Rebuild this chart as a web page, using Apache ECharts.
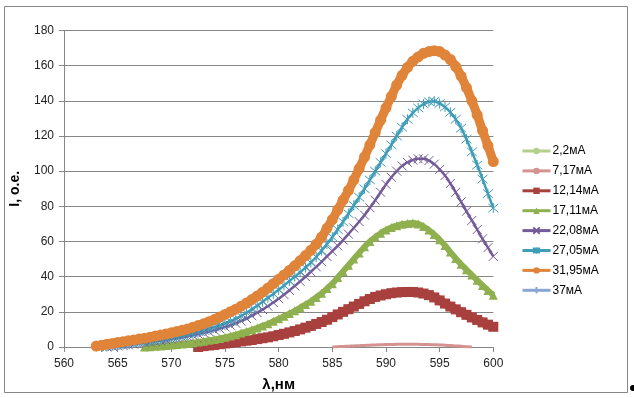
<!DOCTYPE html>
<html><head><meta charset="utf-8">
<script src="https://cdn.jsdelivr.net/npm/echarts/dist/echarts.min.js"></script>
<style>html,body{margin:0;padding:0;background:#fff}#c{width:634px;height:398px}</style>
</head><body><div id="c"></div><script>
// wavelength grid, nm
const lambda = [563,563.5,564,564.5,565,565.5,566,566.5,567,567.5,568,568.5,569,569.5,570,570.5,571,571.5,572,572.5,
  573,573.5,574,574.5,575,575.5,576,576.5,577,577.5,578,578.5,579,579.5,580,580.5,581,581.5,582,582.5,
  583,583.5,584,584.5,585,585.5,586,586.5,587,587.5,588,588.5,589,589.5,590,590.5,591,591.5,592,592.5,
  593,593.5,594,594.5,595,595.5,596,596.5,597,597.5,598,598.5,599,599.5,600];
const seriesNames = ['2,2мА','7,17мА','12,14мА','17,11мА','22,08мА','27,05мА','31,95мА','37мА'];
const xTicks = [560,565,570,575,580,585,590,595,600];
const yTicks = [0,20,40,60,80,100,120,140,160,180];

// start wavelengths of each series
const start_2_2 = null, start_7_17 = 585, start_12_14 = 572.5, start_17_11 = 567.5,
      start_22_08 = 564, start_27_05 = 563.5, start_31_95 = 563, start_37 = null;

const I_2_2 = [];
const I_7_17 = [0,0.15,0.3,0.45,0.6,0.75,0.9,1.05,1.2,1.3,1.4,1.45,1.5,1.55,1.6,1.55,1.5,1.45,1.4,1.3,1.2,1.0,0.8,0.6,0.4,0.2,0];
const I_12_14 = [0,0.5,0.85,1.2,1.6,2.0,2.4,2.8,3.2,3.6,
  4.0,4.5,5.0,5.5,6.1,6.8,7.5,8.3,9.1,10.0,
  11,12,13.1,14.2,15.5,17,18.5,20,21.5,23,
  24.5,26,27.3,28.5,29.3,30,30.6,31,31.2,31.3,
  31.3,31,30.4,29.5,28.2,26.5,24.7,23,21.4,19.8,
  18.3,16.8,15.4,14,12.7,11.5];
const I_17_11 = [0,0.2,0.4,0.6,0.8,1.1,1.4,1.7,2.0,2.4,
  2.8,3.3,3.8,4.3,4.9,5.5,6.2,7.0,7.9,8.8,
  9.8,10.8,12.0,13.2,14.6,16.0,17.5,19.0,20.6,22.3,
  24.1,26.0,28.2,30.5,33.2,36.0,39.5,43.0,46.5,50.0,
  53.5,57,60,62.5,64.7,66.5,68,69,69.8,70.3,
  70.5,70,68.5,66.5,64,61,57.7,54,50.3,47,
  44,41,38,35,32.2,29.5];
const I_22_08 = [0,0.3,0.6,0.9,1.2,1.6,2.0,2.4,2.8,3.2,
  3.6,4.0,4.5,5.0,5.5,6.1,6.7,7.4,8.1,8.8,
  9.6,10.5,11.4,12.4,13.5,14.8,16.2,17.8,19.5,21.3,
  23.2,25.3,27.5,29.8,32.2,34.7,37.3,40.0,42.8,45.6,
  48.5,51.5,54.5,57.5,60.8,64.2,67.7,71.3,75,79.2,
  83.5,88,92.5,96.5,100,103,105,106.3,107,107,
  106,104,101,97.5,93,88,82.5,77.2,72,66.8,
  61.5,56.5,51.5];
const I_27_05 = [0,0.4,0.8,1.2,1.6,2.0,2.4,2.8,3.2,3.6,
  4.0,4.4,4.9,5.4,5.9,6.5,7.2,7.9,8.7,9.5,
  10.4,11.3,12.3,13.4,14.6,16.0,17.6,19.4,21.4,23.5,
  25.7,28.0,30.2,32.5,35.0,37.5,40.0,42.5,45.2,48.0,
  51.2,54.8,58.5,62.5,66.8,71.2,75.8,80.5,85.2,90.0,
  95,100,105,110,115,120,125,129.5,133.2,136,
  138.2,139.5,139.8,138.5,136.5,133.5,129.5,124.5,118.2,111,
  103.5,95.5,87.2,79];
const I_31_95 = [0.5,1.0,1.5,2.0,2.5,3.0,3.5,4.0,4.5,5.0,
  5.6,6.2,6.8,7.4,8.1,8.8,9.5,10.3,11.2,12.2,
  13.2,14.4,15.6,17.0,18.5,20.0,21.5,23.2,25.0,27.0,
  29.0,31.2,33.5,36.0,38.5,41.0,43.5,46.2,49.0,52.0,
  55.0,58.5,62.5,67.5,72.5,78.0,83.5,89.0,95.0,101.5,
  108,115,122,129,136,142.5,149,154.5,159,162.5,
  165,167,168,168.5,168,166,163.5,159.5,154,147.5,
  140,132,123,114.5,105.5];
const I_37 = [];

const colors = ['#b3cf8a','#d49291','#a8403e','#8fb04e','#735a98','#3f9db8','#e0843a','#8ba5d2'];

function pairs(start, vals){
  if (start === null) return [];
  const off = lambda.indexOf(start);
  return vals.map((v,i)=>[lambda[off+i], v]);
}
const allStarts = [start_2_2,start_7_17,start_12_14,start_17_11,start_22_08,start_27_05,start_31_95,start_37];
const allVals = [I_2_2,I_7_17,I_12_14,I_17_11,I_22_08,I_27_05,I_31_95,I_37];
const symbols = ['none','none','rect','triangle',
  'path://M0,0L10,10M10,0L0,10',
  'path://M0,0L10,10M10,0L0,10M5,-1L5,11',
  'circle',
  'path://M5,0L5,10M0,5L10,5'];
const symSizes = [0,0,10,9,9,10,11,9];
const lineWidths = [2.5,3,9,6,2.5,2.5,9,2.5];

const series = seriesNames.map((name,k)=>{
  const path = symbols[k].startsWith('path');
  return {
    name, type:'line', data: pairs(allStarts[k], allVals[k]),
    showSymbol: symbols[k] !== 'none',
    symbol: symbols[k],
    symbolSize: symSizes[k],
    smooth: true, animation:false,
    lineStyle:{color:colors[k], width: lineWidths[k]},
    itemStyle:{color:colors[k], borderColor:colors[k], borderWidth: path?1:0},
    emphasis:{disabled:true}
  };
});

const chart = echarts.init(document.getElementById('c'), null, {renderer:'canvas'});
chart.setOption({
  animation:false,
  color: colors,
  grid:{left:62.3, right:140.7, top:30.5, bottom:51, containLabel:false},
  xAxis:{type:'value', min:xTicks[0], max:xTicks[xTicks.length-1], interval:5,
    name:'λ,нм', nameLocation:'middle', nameGap:30,
    nameTextStyle:{fontFamily:'Liberation Sans', fontWeight:'bold', fontSize:15, color:'#000'},
    axisLine:{lineStyle:{color:'#868686', width:1}},
    axisTick:{show:true, length:5, inside:false, lineStyle:{color:'#868686'}},
    axisLabel:{fontFamily:'Liberation Sans', fontSize:12, color:'#222', margin:11},
    splitLine:{show:false}},
  yAxis:{type:'value', min:yTicks[0], max:yTicks[yTicks.length-1], interval:20,
    name:'I, o.e.', nameLocation:'middle', nameGap:42, nameRotate:90,
    nameTextStyle:{fontFamily:'Liberation Sans', fontWeight:'bold', fontSize:14, color:'#000'},
    axisLine:{show:true, lineStyle:{color:'#868686', width:1}},
    axisTick:{show:true, length:5, lineStyle:{color:'#868686'}},
    axisLabel:{fontFamily:'Liberation Sans', fontSize:12, color:'#222', margin:10},
    splitLine:{show:true, lineStyle:{color:'#868686', width:1}}},
  legend:{orient:'vertical', left:516, top:140, itemWidth:28, itemHeight:8, itemGap:7.9,
    data: seriesNames,
    lineStyle:{width:3},
    textStyle:{fontFamily:'Liberation Sans', fontSize:12, lineHeight:12, color:'#000', padding:[0,0,0,-3]}},
  graphic:[
    {type:'rect', shape:{x:4.5, y:6.5, width:623, height:386}, style:{fill:'none', stroke:'#868686', lineWidth:1}, silent:true, z:-1},
    {type:'circle', shape:{cx:633, cy:388, r:3}, style:{fill:'#000'}, silent:true}
  ],
  series
});
</script></body></html>
